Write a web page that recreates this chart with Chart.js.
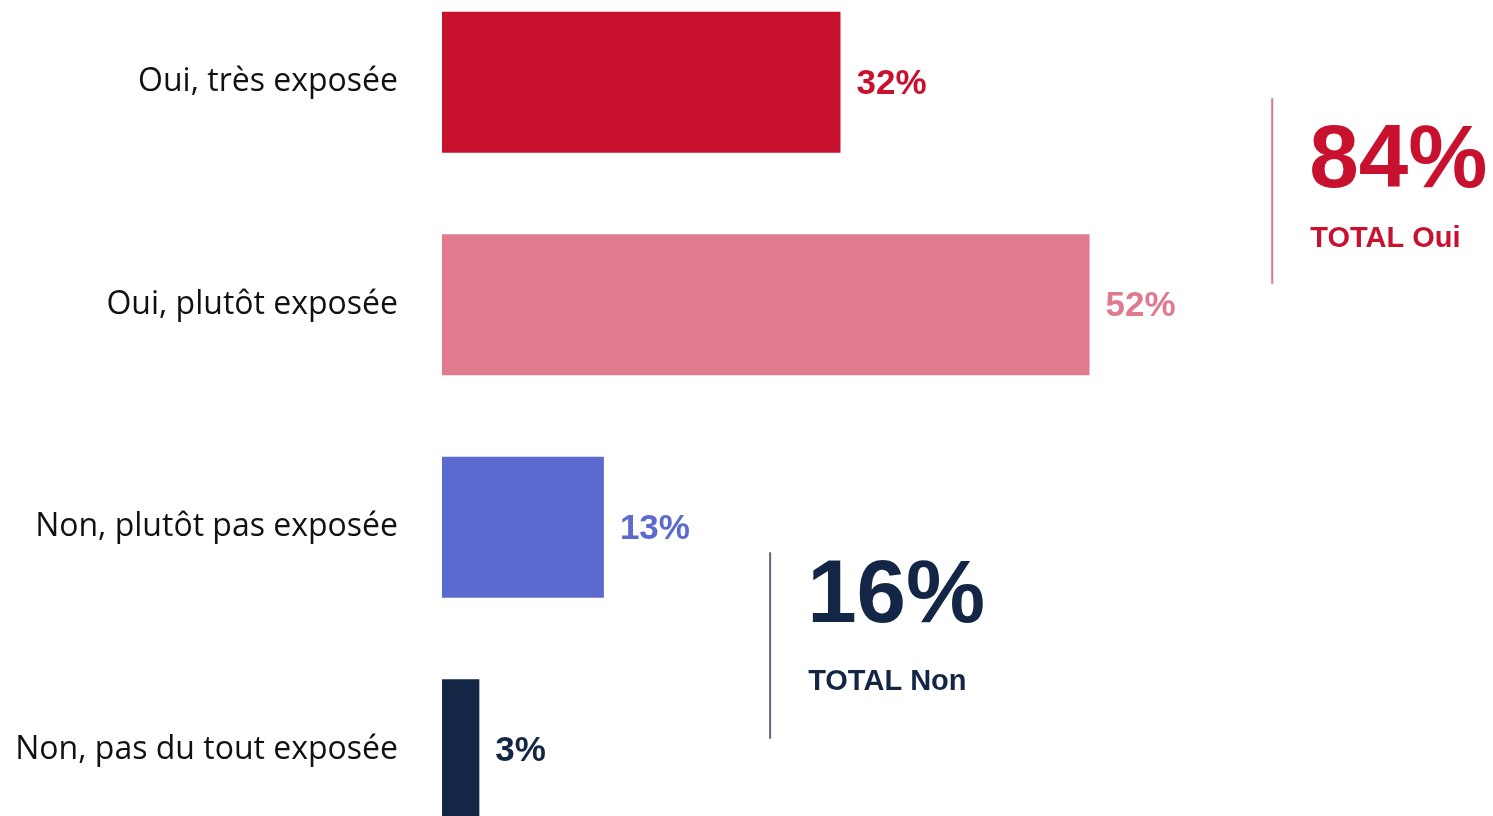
<!DOCTYPE html>
<html>
<head>
<meta charset="utf-8">
<script src="https://cdn.jsdelivr.net/npm/chart.js@4"></script>
<style>
    html, body { margin: 0; padding: 0; background: #ffffff; overflow: hidden; }
    #barChart { position: absolute; left: 0; top: -29px; }
</style>
</head>
<body>
<canvas id="barChart" width="1493" height="890"></canvas>
<script>
// data
const categories = ["Oui, très exposée", "Oui, plutôt exposée", "Non, plutôt pas exposée", "Non, pas du tout exposée"];
const values = [32, 52, 13, 3];
const barColors = ["#C8102F", "#E07A8F", "#5C69CE", "#142646"];
const valueLabels = ["32%", "52%", "13%", "3%"];

const totalValues = ["84%", "16%"];
const totalLabels = ["TOTAL Oui", "TOTAL Non"];
const totalColors = ["#C8102F", "#142646"];
const totalLineColors = ["#D9788A", "#5E6679"];

// value labels next to each bar
const valueLabelPlugin = {
    id: "valueLabels",
    afterDatasetsDraw(chart) {
        let ctx = chart.ctx;
        let meta = chart.getDatasetMeta(0);
        ctx.save();
        ctx.font = "bold 35px 'Liberation Sans', Arial, sans-serif";
        ctx.textAlign = "left";
        ctx.textBaseline = "middle";
        meta.data.forEach((bar, i) => {
            ctx.fillStyle = barColors[i];
            ctx.fillText(valueLabels[i], bar.x + 16, bar.y + 2);
        });
        ctx.restore();
    }
};

// the two "TOTAL" blocks with their vertical rule
const totalsPlugin = {
    id: "totals",
    afterDraw(chart) {
        let ctx = chart.ctx;
        let x = chart.scales.x;
        let y = chart.scales.y;
        let blocks = [
            { lineX: x.getPixelForValue(66.67), top: y.getPixelForValue(0) + 16, bottom: y.getPixelForValue(1) - 21, big: 89, small: 149 },
            { lineX: x.getPixelForValue(26.35), top: y.getPixelForValue(2) + 25, bottom: y.getPixelForValue(3) - 11, big: 70, small: 138 }
        ];
        ctx.save();
        blocks.forEach((b, i) => {
            ctx.strokeStyle = totalLineColors[i];
            ctx.lineWidth = 2;
            ctx.beginPath();
            ctx.moveTo(b.lineX, b.top);
            ctx.lineTo(b.lineX, b.bottom);
            ctx.stroke();

            ctx.fillStyle = totalColors[i];
            ctx.textAlign = "left";
            ctx.textBaseline = "alphabetic";
            ctx.font = "bold 89px 'Liberation Sans', Arial, sans-serif";
            ctx.fillText(totalValues[i], b.lineX + 37, b.top + b.big);
            ctx.font = "bold 29px 'Liberation Sans', Arial, sans-serif";
            ctx.fillText(totalLabels[i], b.lineX + 38, b.top + b.small);
        });
        ctx.restore();
    }
};

new Chart(document.getElementById("barChart").getContext("2d"), {
    type: "bar",
    data: {
        labels: categories,
        datasets: [{
            data: values,
            backgroundColor: barColors,
            borderWidth: 0,
            categoryPercentage: 1,
            barPercentage: 0.634
        }]
    },
    options: {
        indexAxis: "y",
        responsive: false,
        animation: false,
        layout: { padding: 0 },
        plugins: {
            legend: { display: false },
            tooltip: { enabled: false }
        },
        scales: {
            x: {
                display: false,
                min: 0,
                max: 84.4
            },
            y: {
                grid: { display: false, drawTicks: false },
                border: { display: false },
                ticks: {
                    color: "#111111",
                    padding: 44,
                    font: { family: "'Open Sans', Roboto, sans-serif", size: 32 }
                },
                afterFit(scale) {
                    scale.width = 442;
                    // no extra room above/below for the tick labels
                    scale.paddingTop = 0;
                    scale.paddingBottom = 0;
                }
            }
        }
    },
    plugins: [valueLabelPlugin, totalsPlugin]
});
</script>
</body>
</html>
